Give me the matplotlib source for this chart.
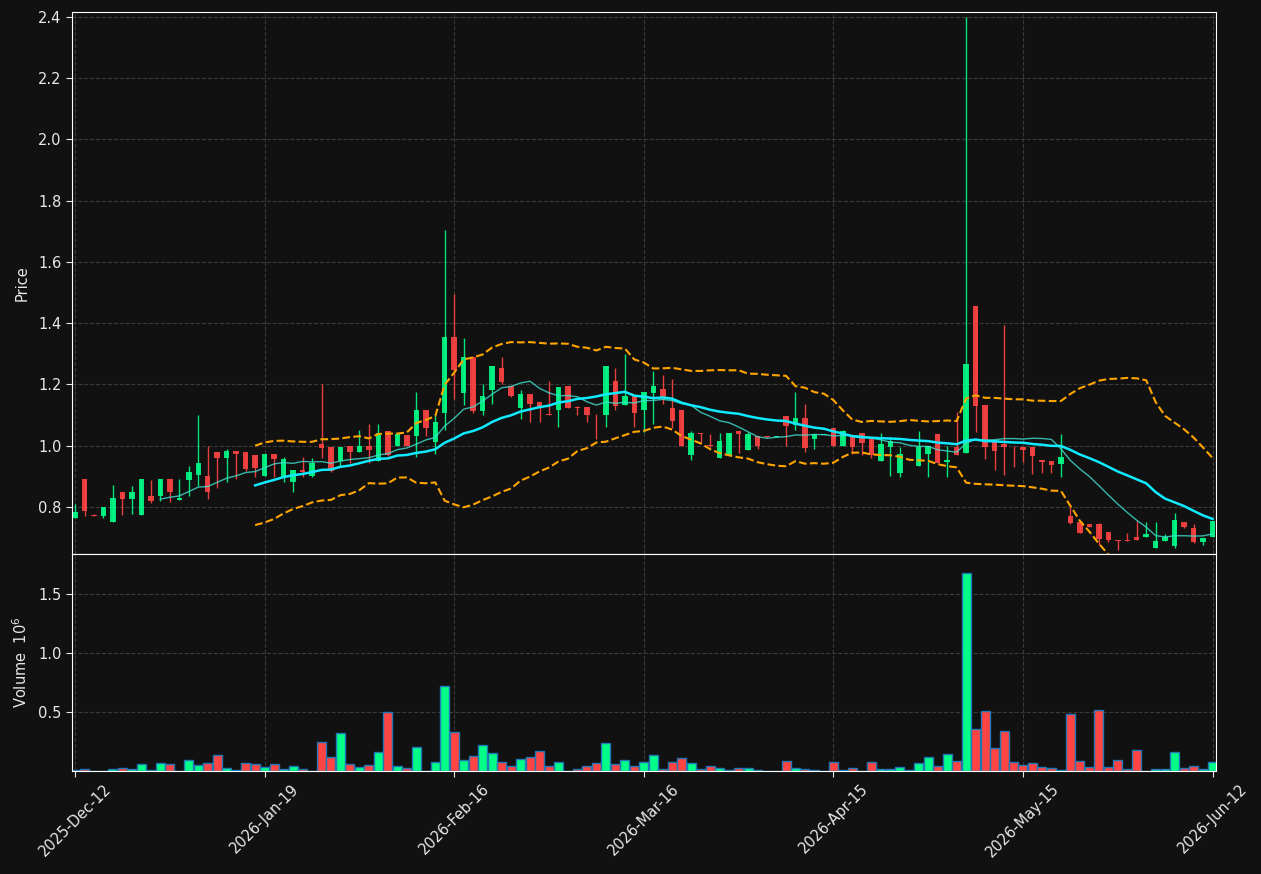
#!/usr/bin/env python

import numpy as np
import pandas as pd
import matplotlib as mpl
mpl.use('Agg')
import matplotlib.pyplot as plt
from matplotlib.ticker import FuncFormatter

# daily OHLC (one entry per trading bar)
opens = [
    0.762, 0.892, 0.773, 0.771, 0.752, 0.849, 0.824, 0.772, 0.836, 0.834,
    0.892, 0.821, 0.889, 0.905, 0.901, 0.980, 0.961, 0.983, 0.980, 0.970,
    0.901, 0.973, 0.899, 0.880, 0.920, 0.902, 1.006, 0.996, 0.951, 1.000,
    0.980, 1.000, 0.949, 1.049, 1.000, 1.033, 1.030, 1.117, 1.011, 1.105,
    1.356, 1.173, 1.288, 1.114, 1.180, 1.252, 1.194, 1.122, 1.167, 1.144,
    1.102, 1.115, 1.196, 1.127, 1.127, 1.101, 1.099, 1.212, 1.134, 1.163,
    1.115, 1.173, 1.186, 1.123, 1.117, 0.970, 1.041, 1.003, 0.961, 0.969,
    1.049, 0.984, 1.031, 1.031, 1.028, 1.098, 1.068, 1.091, 1.020, 1.035,
    1.058, 1.000, 1.032, 1.042, 1.023, 0.951, 0.997, 0.912, 0.955, 0.932,
    0.971, 1.038, 0.945, 0.997, 0.975, 1.455, 1.131, 1.012, 1.004, 1.000,
    0.997, 0.996, 0.953, 0.950, 0.940, 0.771, 0.752, 0.744, 0.744, 0.718,
    0.692, 0.692, 0.702, 0.703, 0.667, 0.689, 0.672, 0.751, 0.731, 0.685,
    0.700,
]
highs = [
    0.809, 0.892, 0.775, 0.800, 0.871, 0.849, 0.869, 0.892, 0.888, 0.892,
    0.892, 0.891, 0.934, 1.100, 1.000, 0.980, 0.988, 0.983, 0.980, 0.970,
    0.973, 0.973, 0.963, 0.920, 0.963, 0.960, 1.201, 0.996, 0.996, 1.000,
    1.052, 1.071, 1.071, 1.049, 1.038, 1.033, 1.175, 1.117, 1.103, 1.703,
    1.494, 1.352, 1.288, 1.201, 1.261, 1.289, 1.194, 1.182, 1.167, 1.144,
    1.210, 1.193, 1.196, 1.128, 1.127, 1.102, 1.261, 1.252, 1.300, 1.163,
    1.176, 1.242, 1.232, 1.218, 1.117, 1.049, 1.042, 1.037, 1.041, 1.042,
    1.049, 1.043, 1.031, 1.031, 1.031, 1.098, 1.174, 1.136, 1.038, 1.035,
    1.058, 1.050, 1.032, 1.042, 1.023, 1.041, 1.027, 0.997, 0.955, 1.049,
    1.000, 1.038, 1.000, 1.110, 2.400, 1.455, 1.131, 1.012, 1.395, 1.000,
    0.997, 0.996, 0.953, 0.950, 1.038, 0.798, 0.752, 0.744, 0.746, 0.718,
    0.692, 0.713, 0.754, 0.752, 0.749, 0.711, 0.781, 0.751, 0.744, 0.698,
    0.755,
]
lows = [
    0.762, 0.770, 0.770, 0.765, 0.752, 0.773, 0.778, 0.772, 0.814, 0.818,
    0.817, 0.821, 0.835, 0.869, 0.825, 0.861, 0.880, 0.891, 0.916, 0.899,
    0.900, 0.899, 0.880, 0.850, 0.899, 0.899, 0.960, 0.915, 0.929, 0.943,
    0.980, 0.943, 0.949, 0.965, 1.000, 1.000, 0.963, 1.031, 0.972, 1.051,
    1.152, 1.133, 1.105, 1.100, 1.136, 1.201, 1.160, 1.087, 1.077, 1.078,
    1.099, 1.061, 1.122, 1.100, 1.077, 1.022, 1.060, 1.116, 1.134, 1.060,
    1.045, 1.071, 1.136, 1.059, 1.000, 0.953, 1.007, 0.995, 0.961, 0.969,
    0.976, 0.984, 0.988, 1.025, 1.027, 1.000, 1.051, 0.978, 0.988, 1.035,
    1.000, 1.000, 0.972, 0.969, 0.961, 0.951, 0.901, 0.899, 0.955, 0.932,
    0.899, 0.942, 0.896, 0.970, 0.975, 1.045, 0.955, 0.920, 0.904, 0.929,
    0.946, 0.907, 0.910, 0.909, 0.899, 0.745, 0.714, 0.735, 0.676, 0.684,
    0.658, 0.690, 0.693, 0.701, 0.667, 0.687, 0.667, 0.730, 0.683, 0.675,
    0.700,
]
closes = [
    0.784, 0.787, 0.771, 0.800, 0.830, 0.824, 0.849, 0.892, 0.820, 0.892,
    0.849, 0.829, 0.915, 0.944, 0.850, 0.961, 0.983, 0.971, 0.925, 0.926,
    0.973, 0.955, 0.957, 0.920, 0.913, 0.944, 0.993, 0.918, 0.996, 0.978,
    1.000, 0.987, 1.042, 0.970, 1.038, 1.000, 1.117, 1.056, 1.078, 1.354,
    1.248, 1.288, 1.114, 1.163, 1.261, 1.208, 1.163, 1.167, 1.136, 1.122,
    1.100, 1.193, 1.122, 1.122, 1.099, 1.099, 1.261, 1.130, 1.163, 1.105,
    1.176, 1.196, 1.160, 1.079, 1.000, 1.042, 1.037, 0.999, 1.016, 1.042,
    1.037, 1.039, 1.000, 1.027, 1.031, 1.065, 1.091, 0.993, 1.038, 1.035,
    1.000, 1.049, 0.997, 1.010, 0.970, 1.006, 1.016, 0.973, 0.955, 0.997,
    1.000, 0.942, 0.954, 0.970, 1.268, 1.129, 0.994, 0.981, 0.994, 0.998,
    0.984, 0.967, 0.948, 0.938, 0.964, 0.748, 0.716, 0.735, 0.696, 0.691,
    0.690, 0.690, 0.693, 0.712, 0.689, 0.703, 0.757, 0.735, 0.685, 0.698,
    0.755,
]
# volume in millions of shares
volumes = [
    0.005, 0.014, 0.003, 0.004, 0.014, 0.026, 0.014, 0.057, 0.011, 0.065,
    0.057, 0.004, 0.091, 0.048, 0.065, 0.134, 0.023, 0.011, 0.065, 0.057,
    0.031, 0.057, 0.014, 0.040, 0.014, 0.003, 0.245, 0.117, 0.321, 0.057,
    0.031, 0.048, 0.159, 0.500, 0.040, 0.023, 0.202, 0.003, 0.074, 0.722,
    0.330, 0.091, 0.125, 0.219, 0.151, 0.074, 0.040, 0.099, 0.117, 0.168,
    0.040, 0.074, 0.003, 0.014, 0.040, 0.065, 0.236, 0.057, 0.091, 0.040,
    0.074, 0.134, 0.014, 0.074, 0.108, 0.065, 0.014, 0.040, 0.023, 0.006,
    0.023, 0.023, 0.006, 0.002, 0.002, 0.082, 0.023, 0.014, 0.006, 0.000,
    0.074, 0.006, 0.023, 0.003, 0.074, 0.014, 0.014, 0.031, 0.005, 0.065,
    0.117, 0.040, 0.142, 0.082, 1.677, 0.355, 0.509, 0.193, 0.338, 0.074,
    0.048, 0.065, 0.031, 0.023, 0.005, 0.483, 0.082, 0.031, 0.517, 0.031,
    0.091, 0.014, 0.176, 0.002, 0.014, 0.014, 0.159, 0.023, 0.040, 0.014,
    0.074,
]
tick_step = 20
tick_labels = ['2025-Dec-12', '2026-Jan-19', '2026-Feb-16', '2026-Mar-16',
               '2026-Apr-15', '2026-May-15', '2026-Jun-12']

BG = '#111111'
FG = '#e8e8e8'
UP = '#00ff88'
DOWN = '#ff4444'


def main():
    df = pd.DataFrame({'open': opens, 'high': highs, 'low': lows,
                       'close': closes, 'volume': np.array(volumes) * 1e6})
    x = np.arange(len(df))
    up = df['close'] >= df['open']
    colors = np.where(up, UP, DOWN)

    # indicators: 10/20 SMA and 20-bar Bollinger bands
    sma10 = df['close'].rolling(10).mean()
    sma20 = df['close'].rolling(20).mean()
    std20 = df['close'].rolling(20).std(ddof=0)
    bb_up = sma20 + 2 * std20
    bb_lo = sma20 - 2 * std20

    W, H = 1261, 874
    fig = plt.figure(figsize=(W / 100, H / 100), dpi=100, facecolor=BG)
    ax = fig.add_axes([72 / W, (H - 554) / H, 1144 / W, 542 / H])
    axv = fig.add_axes([72 / W, (H - 771) / H, 1144 / W, 217 / H], sharex=ax)

    for a in (ax, axv):
        a.set_facecolor(BG)
        for s in a.spines.values():
            s.set_color('white')
        a.tick_params(colors=FG, labelsize=10.5, length=4)
        a.grid(True, linestyle='--', color='#3a3a3a', linewidth=0.8)
        a.set_axisbelow(True)

    # candles
    ax.vlines(x, df['low'], df['high'], colors=colors, linewidth=1.0, alpha=0.9)
    body = (df['close'] - df['open']).abs().clip(lower=0.002)
    bottom = df[['open', 'close']].min(axis=1)
    ax.bar(x, body, bottom=bottom, width=0.58, color=colors, alpha=0.9,
           linewidth=0)

    ax.plot(x, sma10, color='#40e0d0', linewidth=1.0, alpha=0.8)
    ax.plot(x, sma20, color='#10eaff', linewidth=1.8)
    ax.plot(x, bb_up, color='orange', linewidth=1.5, linestyle='--')
    ax.plot(x, bb_lo, color='orange', linewidth=1.5, linestyle='--')

    ax.set_ylim(0.646, 2.416)
    ax.set_yticks(np.arange(0.8, 2.41, 0.2))
    ax.set_ylabel('Price', color=FG, fontsize=10.5, labelpad=6)
    ax.tick_params(axis='x', labelbottom=False)

    # volume
    axv.bar(x, df['volume'], width=0.95, color=colors,
            edgecolor='#1f77b4', linewidth=1.0)
    axv.set_ylim(0, 1.84e6)
    axv.set_yticks([0.5e6, 1.0e6, 1.5e6])
    axv.yaxis.set_major_formatter(FuncFormatter(lambda v, p: f'{v / 1e6:.1f}'))
    axv.set_ylabel(r'Volume  $10^{6}$', color=FG, fontsize=10.5, labelpad=6)

    axv.set_xlim(-0.32, len(df) - 1 + 0.36)
    axv.set_xticks(x[::tick_step])
    axv.set_xticklabels(tick_labels, rotation=45, ha='center')

    fig.savefig('out.png', dpi=100, facecolor=BG)


if __name__ == '__main__':
    main()
